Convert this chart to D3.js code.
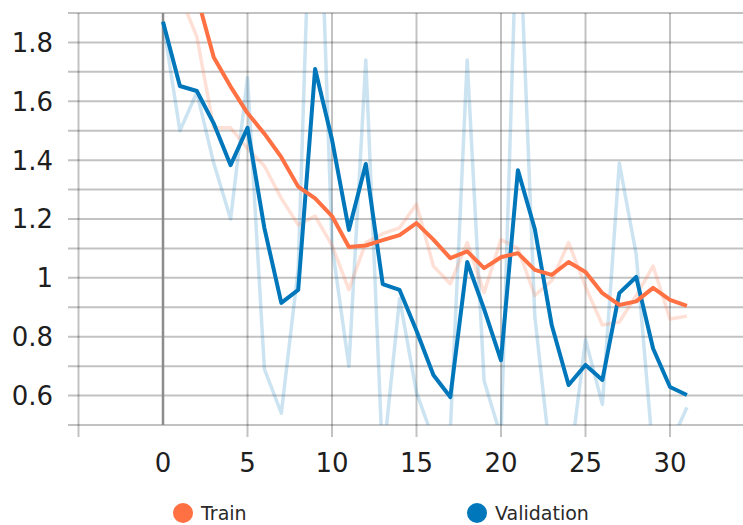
<!DOCTYPE html>
<html>
<head>
<meta charset="utf-8">
<script src="https://cdn.jsdelivr.net/npm/d3@7"></script>
<style>
  html, body { margin: 0; padding: 0; background: #ffffff; }
  svg { display: block; }
  text { font-family: "DejaVu Sans", sans-serif; }
</style>
</head>
<body>
<svg id="chart" width="743" height="525"></svg>
<script>
// ---- data ----
const epochs = d3.range(0, 32);
const trainRaw = [2.35, 1.96, 1.82, 1.51, 1.51, 1.44, 1.38, 1.27, 1.18, 1.21, 1.11, 0.96, 1.12, 1.15, 1.17, 1.25,
                  1.04, 0.98, 1.12, 0.95, 1.13, 1.10, 0.94, 0.99, 1.12, 0.97, 0.84, 0.85, 0.94, 1.04, 0.86, 0.87];
const trainSmooth = [2.35, 2.11, 1.96, 1.75, 1.65, 1.56, 1.49, 1.41, 1.31, 1.27, 1.21, 1.105, 1.11, 1.128, 1.145, 1.186,
                     1.13, 1.067, 1.09, 1.033, 1.07, 1.084, 1.027, 1.01, 1.054, 1.02, 0.948, 0.908, 0.92, 0.966, 0.925, 0.905];
const valRaw = [1.87, 1.50, 1.63, 1.39, 1.20, 1.68, 0.69, 0.54, 1.03, 2.83, 1.11, 0.70, 1.74, 0.37, 0.93, 0.61,
                0.45, 0.48, 1.74, 0.65, 0.46, 2.33, 0.87, 0.35, 0.33, 0.79, 0.57, 1.39, 1.08, 0.40, 0.43, 0.56];
const valSmooth = [1.87, 1.652, 1.635, 1.525, 1.383, 1.51, 1.169, 0.915, 0.959, 1.71, 1.47, 1.163, 1.387, 0.979, 0.959, 0.82,
                   0.67, 0.595, 1.054, 0.894, 0.72, 1.366, 1.166, 0.84, 0.636, 0.704, 0.653, 0.948, 1.003, 0.76, 0.629, 0.602];
const xTicks = [-5, 0, 5, 10, 15, 20, 25, 30];
const xTickLabels = ["", "0", "5", "10", "15", "20", "25", "30"];
const yGrid = [0.5, 0.6, 0.7, 0.8, 0.9, 1.0, 1.1, 1.2, 1.3, 1.4, 1.5, 1.6, 1.7, 1.8, 1.9];
const yTicks = [0.6, 0.8, 1.0, 1.2, 1.4, 1.6, 1.8];
const yTickLabels = ["0.6", "0.8", "1", "1.2", "1.4", "1.6", "1.8"];
const seriesNames = ["Train", "Validation"];
const seriesColors = ["#ff7043", "#0077bb"];

// ---- layout ----
const W = 743, H = 525;
const plot = { left: 68, top: 13, right: 743, bottom: 425 };

const x = d3.scaleLinear().domain([0, 30]).range([163, 670]);
const y = d3.scaleLinear().domain([0.5, 1.9]).range([plot.bottom, plot.top]);

const svg = d3.select("#chart");

// clip
svg.append("defs").append("clipPath").attr("id", "plotclip")
  .append("rect")
  .attr("x", plot.left).attr("y", plot.top)
  .attr("width", plot.right - plot.left).attr("height", plot.bottom - plot.top);

// grid
const grid = svg.append("g");
grid.selectAll("line.h").data(yGrid).enter().append("line")
  .attr("x1", plot.left).attr("x2", plot.right)
  .attr("y1", d => y(d)).attr("y2", d => y(d))
  .attr("stroke", "#000").attr("stroke-opacity", 0.24).attr("stroke-width", 2);
grid.selectAll("line.v").data(xTicks.filter(d => d !== 0)).enter().append("line")
  .attr("x1", d => x(d)).attr("x2", d => x(d))
  .attr("y1", plot.top).attr("y2", plot.bottom + 12)
  .attr("stroke", "#000").attr("stroke-opacity", 0.24).attr("stroke-width", 2);
// zero line
grid.append("line")
  .attr("x1", x(0)).attr("x2", x(0))
  .attr("y1", plot.top).attr("y2", plot.bottom)
  .attr("stroke", "#8c8c8c").attr("stroke-width", 2.5);

// axis labels
svg.append("g").selectAll("text").data(yTicks).enter().append("text")
  .attr("x", 53).attr("y", d => y(d)).attr("dy", "0.36em")
  .attr("text-anchor", "end").attr("font-size", 26).attr("fill", "#1e1e1e")
  .text((d, i) => yTickLabels[i]);
svg.append("g").selectAll("text").data(xTicks).enter().append("text")
  .attr("x", d => x(d)).attr("y", 472)
  .attr("text-anchor", "middle").attr("font-size", 26).attr("fill", "#1e1e1e")
  .text((d, i) => xTickLabels[i]);

// lines
const line = d3.line().x((d, i) => x(epochs[i])).y(d => y(d));
const lines = svg.append("g").attr("clip-path", "url(#plotclip)");
lines.append("path").datum(valRaw).attr("d", line)
  .attr("fill", "none").attr("stroke", seriesColors[1]).attr("stroke-opacity", 0.2)
  .attr("stroke-width", 3.5).attr("stroke-linejoin", "round");
lines.append("path").datum(trainRaw).attr("d", line)
  .attr("fill", "none").attr("stroke", seriesColors[0]).attr("stroke-opacity", 0.22)
  .attr("stroke-width", 3.5).attr("stroke-linejoin", "round");
lines.append("path").datum(valSmooth).attr("d", line)
  .attr("fill", "none").attr("stroke", seriesColors[1])
  .attr("stroke-width", 4).attr("stroke-linejoin", "round");
lines.append("path").datum(trainSmooth).attr("d", line)
  .attr("fill", "none").attr("stroke", seriesColors[0])
  .attr("stroke-width", 4).attr("stroke-linejoin", "round");

// legend
const legendX = [183, 477];
const legend = svg.append("g");
seriesNames.forEach((name, i) => {
  legend.append("circle").attr("cx", legendX[i]).attr("cy", 513).attr("r", 10)
    .attr("fill", seriesColors[i]);
  legend.append("text").attr("x", legendX[i] + 18).attr("y", 520)
    .attr("font-size", 19).attr("fill", "#2a2a2a").text(name);
});
</script>
</body>
</html>
